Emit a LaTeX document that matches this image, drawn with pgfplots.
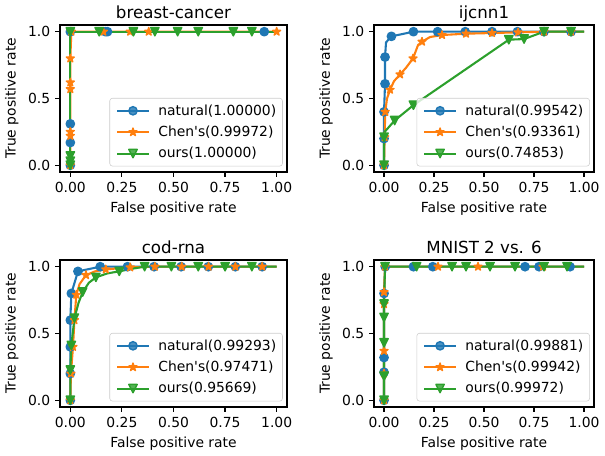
\documentclass[border=0pt]{standalone}
\usepackage{fontspec}
\setmainfont{DejaVu Sans}[Ligatures=TeXOff]
\usepackage{pgfplots}
\pgfplotsset{compat=1.18}

\definecolor{c0}{HTML}{1F77B4}
\definecolor{c1}{HTML}{FF7F0E}
\definecolor{c2}{HTML}{2CA02C}

% matplotlib-like filled markers
\pgfdeclareplotmark{mplstar}{%
  \pgfpathmoveto{\pgfpointpolar{90}{\pgfplotmarksize}}%
  \pgfpathlineto{\pgfpointpolar{126}{0.382\pgfplotmarksize}}%
  \pgfpathlineto{\pgfpointpolar{162}{\pgfplotmarksize}}%
  \pgfpathlineto{\pgfpointpolar{198}{0.382\pgfplotmarksize}}%
  \pgfpathlineto{\pgfpointpolar{234}{\pgfplotmarksize}}%
  \pgfpathlineto{\pgfpointpolar{270}{0.382\pgfplotmarksize}}%
  \pgfpathlineto{\pgfpointpolar{306}{\pgfplotmarksize}}%
  \pgfpathlineto{\pgfpointpolar{342}{0.382\pgfplotmarksize}}%
  \pgfpathlineto{\pgfpointpolar{18}{\pgfplotmarksize}}%
  \pgfpathlineto{\pgfpointpolar{54}{0.382\pgfplotmarksize}}%
  \pgfpathclose\pgfusepathqfillstroke}
\pgfdeclareplotmark{mpltri}{%
  \pgfpathmoveto{\pgfqpoint{0pt}{-\pgfplotmarksize}}%
  \pgfpathlineto{\pgfqpoint{-\pgfplotmarksize}{\pgfplotmarksize}}%
  \pgfpathlineto{\pgfqpoint{\pgfplotmarksize}{\pgfplotmarksize}}%
  \pgfpathclose\pgfusepathqfillstroke}

\pgfplotsset{
  rocax/.style={
    scale only axis, height=105.8pt,
    xmin=-0.05, xmax=1.05, ymin=-0.05, ymax=1.05,
    xtick={0,0.25,0.5,0.75,1}, xticklabels={0.00,0.25,0.50,0.75,1.00},
    ytick={0,0.5,1}, yticklabels={0.0,0.5,1.0},
    tick align=outside, tick pos=left, major tick length=3.5pt,
    every tick/.style={black, line width=0.8pt},
    axis line style={line width=0.8pt},
    xlabel={False positive rate}, ylabel={True positive rate},
    title style={font=\fontsize{12}{14}\selectfont, anchor=base, yshift=-1pt},
    label style={font=\fontsize{10}{12}\selectfont},
    tick label style={font=\fontsize{10}{12}\selectfont},
    legend cell align=left,
    legend style={at={(1,0)}, anchor=south east, xshift=-3pt, yshift=4pt,
      draw=black!20, fill=white, fill opacity=0.8, text opacity=1,
      rounded corners=2pt, font=\fontsize{10}{12}\selectfont,
      row sep=2.3pt, inner sep=2.5pt},
    legend image code/.code={%
      \draw[##1, mark indices={2}] plot coordinates {(2pt,0pt) (13.5pt,0pt) (25pt,0pt)};
      \path (0pt,0pt) (29pt,0pt);},
  },
  nat/.style={c0, line width=1.5pt, line join=round, mark=*, mark size=3pt,
    mark options={solid, fill=c0, draw=c0, line width=1pt}},
  chen/.style={c1, line width=1.5pt, line join=round, mark=mplstar, mark size=3pt,
    mark options={solid, fill=c1, draw=c1, line width=1pt}},
  ours/.style={c2, line width=1.5pt, line join=round, mark=mpltri, mark size=3pt,
    mark options={solid, fill=c2, draw=c2, line width=1pt}},
}

\begin{document}
\begin{tikzpicture}

% breast-cancer
\begin{axis}[rocax, width=163.4pt, at={(43.2pt,-123.8pt)}, anchor=south west,
  title={breast-cancer}]
\addplot[nat, mark indices={1,2,3,4,5,6,7}] coordinates {
  (0,0) (0,0.17) (0,0.31) (0,1) (0.17,1) (0.18,1) (0.94,1) (1,1)};
\addlegendentry{natural(1.00000)}
\addplot[chen] coordinates {
  (0,0) (0,0.22) (0,0.25) (0,0.57) (0,0.62) (0,0.8) (0.005,1) (0.16,1) (0.29,1) (0.38,1) (1,1)};
\addlegendentry{Chen's(0.99972)}
\addplot[ours, mark indices={1,2,3,4,5,6,7,8,9,10,11}] coordinates {
  (0,0) (0,0.03) (0,0.07) (0,1) (0.14,1) (0.306,1) (0.41,1) (0.52,1) (0.62,1) (0.79,1) (0.88,1) (1,1)};
\addlegendentry{ours(1.00000)}
\end{axis}

% ijcnn1
\begin{axis}[rocax, width=158.4pt, at={(269.3pt,-123.8pt)}, anchor=south west,
  title={ijcnn1}]
\addplot[nat, mark indices={1,2,3,4,5,7,8,9,10,11,12,13,14}] coordinates {
  (0,0) (0,0.2) (0,0.4) (0.005,0.61) (0.005,0.81) (0.01,0.92) (0.037,0.965)
  (0.147,1) (0.268,1) (0.406,1) (0.54,1) (0.667,1) (0.80,1) (0.935,1) (1,1)};
\addlegendentry{natural(0.99542)}
\addplot[chen, mark indices={1,2,3,5,7,9,12,14,15,16,17,18,19}] coordinates {
  (0,0) (0.003,0.21) (0.006,0.40) (0.015,0.5) (0.03,0.565) (0.05,0.63) (0.08,0.68)
  (0.11,0.73) (0.145,0.80) (0.16,0.86) (0.17,0.90) (0.19,0.925) (0.23,0.96)
  (0.29,0.975) (0.41,0.985) (0.54,0.99) (0.67,0.995) (0.80,1) (0.935,1) (1,1)};
\addlegendentry{Chen's(0.93361)}
\addplot[ours, mark indices={1,2,4,5,6,7,8,9}] coordinates {
  (0,0) (0,0.21) (0.003,0.25) (0.053,0.335) (0.147,0.45) (0.624,0.94) (0.70,0.945)
  (0.80,1) (0.935,1) (1,1)};
\addlegendentry{ours(0.74853)}
\end{axis}

% cod-rna
\begin{axis}[rocax, width=163.4pt, at={(43.2pt,-293.0pt)}, anchor=south west,
  title={cod-rna}]
\addplot[nat, mark indices={1,2,3,4,5,6,7,8,9,10,11,12,13}] coordinates {
  (0,0) (0,0.2) (0,0.4) (0,0.6) (0.005,0.8) (0.037,0.965) (0.145,1) (0.277,1)
  (0.406,1) (0.537,1) (0.669,1) (0.80,1) (0.93,1) (1,1)};
\addlegendentry{natural(0.99293)}
\addplot[chen, mark indices={1,2,3,4,5,7,9,10,11,12,13,14,15}] coordinates {
  (0,0) (0.003,0.2) (0.013,0.4) (0.02,0.6) (0.029,0.79) (0.045,0.87) (0.076,0.937)
  (0.12,0.965) (0.172,0.98) (0.29,0.995) (0.41,1) (0.54,1) (0.67,1) (0.80,1) (0.93,1) (1,1)};
\addlegendentry{Chen's(0.97471)}
\addplot[ours, mark indices={1,2,3,4,6,8,10,12,13,14,15,16}] coordinates {
  (0,0) (0,0.226) (0.005,0.41) (0.02,0.615) (0.04,0.73) (0.06,0.81) (0.09,0.88)
  (0.124,0.92) (0.18,0.95) (0.237,0.965) (0.3,0.985) (0.36,1) (0.49,1) (0.62,1)
  (0.75,1) (0.88,1) (1,1)};
\addlegendentry{ours(0.95669)}
\end{axis}

% MNIST 2 vs. 6
\begin{axis}[rocax, width=158.4pt, at={(269.3pt,-293.0pt)}, anchor=south west,
  title={MNIST 2 vs. 6}]
\addplot[nat, mark indices={1,2,3,4,5,6,7,8,9,10}] coordinates {
  (0,0) (0,0.21) (0,0.32) (0,0.80) (0.006,1) (0.147,1) (0.244,1) (0.705,1) (0.775,1) (0.93,1) (1,1)};
\addlegendentry{natural(0.99881)}
\addplot[chen, mark indices={1,2,3,4,5,6,7,8,9}] coordinates {
  (0,0) (0,0.2) (0,0.37) (0,0.72) (0,0.81) (0.005,1) (0.27,1) (0.47,1) (0.795,1) (1,1)};
\addlegendentry{Chen's(0.99942)}
\addplot[ours, mark indices={1,2,3,4,5,6,7,8,9,10,11,12,13}] coordinates {
  (0,0) (0,0.18) (0,0.43) (0,0.62) (0,0.72) (0.005,1) (0.163,1) (0.34,1) (0.41,1)
  (0.53,1) (0.655,1) (0.80,1) (0.915,1) (1,1)};
\addlegendentry{ours(0.99972)}
\end{axis}

\pgfresetboundingbox
\useasboundingbox (0pt,0pt) rectangle (435.6pt,-327.6pt);
\end{tikzpicture}
\end{document}
